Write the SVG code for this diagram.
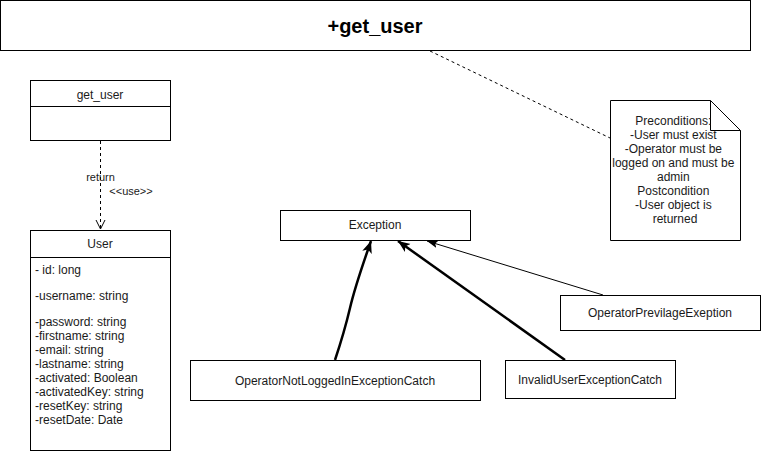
<svg xmlns="http://www.w3.org/2000/svg" width="761" height="454" viewBox="0 0 761 454">
<style>
.box{fill:#fff;stroke:#000;stroke-width:1}
.t{font-family:"Liberation Sans",Arial,sans-serif;font-size:12px;fill:#1a1a1a}
.c{text-anchor:middle}
.dash{fill:none;stroke:#000;stroke-width:1;stroke-dasharray:3,3}
.bold{fill:none;stroke:#000;stroke-width:2.5}
.thin{fill:none;stroke:#000;stroke-width:1}
</style>
<defs>
<marker id="hb" markerUnits="userSpaceOnUse" markerWidth="14" markerHeight="12" refX="12" refY="5" orient="auto" viewBox="0 0 14 10">
<path d="M0,0 L12,5 L0,10 L3,5 Z" fill="#000"/>
</marker>
<marker id="ht" markerUnits="userSpaceOnUse" markerWidth="12" markerHeight="10" refX="11" refY="4" orient="auto" viewBox="0 0 12 8">
<path d="M0,0 L11,4 L0,8 L2.5,4 Z" fill="#000"/>
</marker>
<marker id="ho" markerUnits="userSpaceOnUse" markerWidth="12" markerHeight="12" refX="10" refY="5" orient="auto" viewBox="0 0 12 10">
<path d="M1,0.5 L10,5 L1,9.5" fill="none" stroke="#000" stroke-width="1"/>
</marker>
</defs>

<g id="title">
<rect class="box" x="0.5" y="0.5" width="750" height="50"/>
<text class="t c" x="375" y="33" style="font-size:20px;font-weight:bold;fill:#000">+get_user</text>
</g>

<g id="note">
<path class="box" d="M610.5,100.5 H710.5 L740.5,130.5 V240.5 H610.5 Z"/>
<path class="thin" d="M710.5,100.5 V130.5 H740.5"/>
<text class="t c" x="675">
<tspan x="675" y="125">Preconditions:</tspan>
<tspan x="675" y="139">-User must exist</tspan>
<tspan x="675" y="153">-Operator must be</tspan>
<tspan x="675" y="167">logged on and must be</tspan>
<tspan x="675" y="181">admin</tspan>
<tspan x="675" y="195">Postcondition</tspan>
<tspan x="675" y="209">-User object is</tspan>
<tspan x="675" y="223">returned</tspan>
</text>
</g>

<g id="get_user">
<rect class="box" x="30.5" y="80.5" width="140" height="60"/>
<line class="thin" x1="30.5" y1="106.5" x2="170.5" y2="106.5"/>
<text class="t c" x="100" y="99">get_user</text>
</g>

<g id="user">
<rect class="box" x="30.5" y="230.5" width="140" height="220"/>
<line class="thin" x1="30.5" y1="257.5" x2="170.5" y2="257.5"/>
<text class="t c" x="100" y="248">User</text>
<text class="t">
<tspan x="35" y="274">- id: long</tspan>
<tspan x="35" y="300">-username: string</tspan>
<tspan x="35" y="326">-password: string</tspan>
<tspan x="35" y="340">-firstname: string</tspan>
<tspan x="35" y="354">-email: string</tspan>
<tspan x="35" y="368">-lastname: string</tspan>
<tspan x="35" y="382">-activated: Boolean</tspan>
<tspan x="35" y="396">-activatedKey: string</tspan>
<tspan x="35" y="410">-resetKey: string</tspan>
<tspan x="35" y="424">-resetDate: Date</tspan>
</text>
</g>

<g id="exception">
<rect class="box" x="280.5" y="210.5" width="190" height="30"/>
<text class="t c" x="375" y="229">Exception</text>
</g>

<g id="opNotLogged">
<rect class="box" x="190.5" y="360.5" width="290" height="40"/>
<text class="t c" x="335" y="385">OperatorNotLoggedInExceptionCatch</text>
</g>

<g id="invalidUser">
<rect class="box" x="505.5" y="360.5" width="170" height="38"/>
<text class="t c" x="590" y="384">InvalidUserExceptionCatch</text>
</g>

<g id="opPrevilage">
<rect class="box" x="560.5" y="295.5" width="200" height="35"/>
<text class="t c" x="660" y="317">OperatorPrevilageExeption</text>
</g>

<g id="connectors">
<line class="dash" x1="430" y1="51" x2="610" y2="138"/>
<line class="dash" x1="100.5" y1="141" x2="100.5" y2="229" marker-end="url(#ho)"/>
<text class="t c" x="100.5" y="181" style="font-size:11px">return</text>
<text class="t c" x="131" y="194.5" style="font-size:11px">&lt;&lt;use&gt;&gt;</text>
<path class="bold" d="M335,360 C339,348 346,325 350,308 S365,258 371,241" marker-end="url(#hb)"/>
<path class="bold" d="M565,360 L398,241" marker-end="url(#hb)"/>
<path class="thin" d="M603,295 L427,241" marker-end="url(#ht)"/>
</g>
</svg>
